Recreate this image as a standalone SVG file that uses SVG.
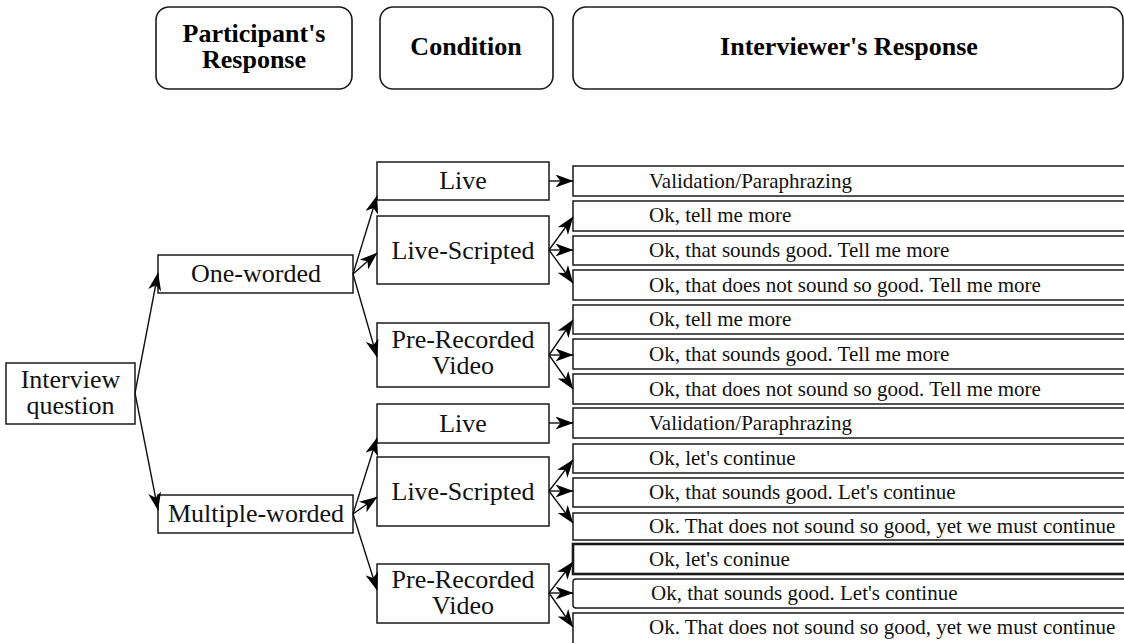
<svg xmlns="http://www.w3.org/2000/svg" width="1124" height="643" viewBox="0 0 1124 643">
<defs>
<style>
.ht{font-family:Liberation Serif,serif;font-weight:bold;font-size:26px;fill:#000;text-anchor:middle}
.nt{font-family:Liberation Serif,serif;font-size:26px;fill:#111;text-anchor:middle}
.rt{font-family:Liberation Serif,serif;font-size:21px;fill:#111}
.box{fill:#fff;stroke:#1a1a1a;stroke-width:1.5}
.hdr{fill:#fff;stroke:#1a1a1a;stroke-width:1.6}
.ln{fill:none;stroke:#111;stroke-width:1.4;marker-end:url(#ah)}
</style>
<marker id="ah" viewBox="0 0 18 13" refX="17.5" refY="6.5" markerWidth="18" markerHeight="13" markerUnits="userSpaceOnUse" orient="auto">
<path d="M0,0 L18,6.5 L0,13 L5,6.5 Z" fill="#000"/>
</marker>
</defs>

<g id="header-participant">
<rect class="hdr" x="156" y="7" width="196" height="82" rx="13"/>
<text class="ht" x="254" y="42">Participant's</text>
<text class="ht" x="254" y="68">Response</text>
</g>
<g id="header-condition">
<rect class="hdr" x="380" y="7" width="173" height="82" rx="13"/>
<text class="ht" x="466" y="55">Condition</text>
</g>
<g id="header-interviewer">
<rect class="hdr" x="573" y="7" width="550" height="82" rx="13"/>
<text class="ht" x="849" y="55">Interviewer's Response</text>
</g>

<g id="interview-question">
<rect class="box" x="6" y="363" width="129" height="61"/>
<text class="nt" x="70.5" y="388">Interview</text>
<text class="nt" x="70.5" y="414">question</text>
</g>
<g id="one-worded">
<rect class="box" x="158" y="255" width="195" height="38"/>
<text class="nt" x="256" y="282">One-worded</text>
</g>
<g id="multiple-worded">
<rect class="box" x="158" y="495" width="195" height="38"/>
<text class="nt" x="256" y="522">Multiple-worded</text>
</g>

<g id="c1-live">
<rect class="box" x="377" y="162" width="172" height="38"/>
<text class="nt" x="463" y="189">Live</text>
</g>
<g id="c1-live-scripted">
<rect class="box" x="377" y="216" width="172" height="68"/>
<text class="nt" x="463" y="259">Live-Scripted</text>
</g>
<g id="c1-prerecorded">
<rect class="box" x="377" y="323" width="172" height="64"/>
<text class="nt" x="463" y="348">Pre-Recorded</text>
<text class="nt" x="463" y="374">Video</text>
</g>
<g id="c2-live">
<rect class="box" x="377" y="404" width="172" height="39"/>
<text class="nt" x="463" y="432">Live</text>
</g>
<g id="c2-live-scripted">
<rect class="box" x="377" y="457" width="172" height="69"/>
<text class="nt" x="463" y="500">Live-Scripted</text>
</g>
<g id="c2-prerecorded">
<rect class="box" x="377" y="564" width="172" height="59"/>
<text class="nt" x="463" y="588">Pre-Recorded</text>
<text class="nt" x="463" y="614">Video</text>
</g>

<g id="r1">
<rect class="box" x="573" y="166" width="570" height="30"/>
<text class="rt" x="649" y="188">Validation/Paraphrazing</text>
</g>
<g id="r2">
<rect class="box" x="573" y="201" width="570" height="30"/>
<text class="rt" x="649" y="222">Ok, tell me more</text>
</g>
<g id="r3">
<rect class="box" x="573" y="236" width="570" height="29"/>
<text class="rt" x="649" y="257">Ok, that sounds good. Tell me more</text>
</g>
<g id="r4">
<rect class="box" x="573" y="270" width="570" height="30"/>
<text class="rt" x="649" y="292">Ok, that does not sound so good. Tell me more</text>
</g>
<g id="r5">
<rect class="box" x="573" y="305" width="570" height="29"/>
<text class="rt" x="649" y="326">Ok, tell me more</text>
</g>
<g id="r6">
<rect class="box" x="573" y="339" width="570" height="30"/>
<text class="rt" x="649" y="361">Ok, that sounds good. Tell me more</text>
</g>
<g id="r7">
<rect class="box" x="573" y="374" width="570" height="30"/>
<text class="rt" x="649" y="396">Ok, that does not sound so good. Tell me more</text>
</g>
<g id="r8">
<rect class="box" x="573" y="408" width="570" height="30"/>
<text class="rt" x="649" y="430">Validation/Paraphrazing</text>
</g>
<g id="r9">
<rect class="box" x="573" y="444" width="570" height="29"/>
<text class="rt" x="649" y="465">Ok, let's continue</text>
</g>
<g id="r10">
<rect class="box" x="573" y="478" width="570" height="29"/>
<text class="rt" x="649" y="499">Ok, that sounds good. Let's continue</text>
</g>
<g id="r11">
<rect class="box" x="573" y="513" width="570" height="27"/>
<text class="rt" x="649" y="533">Ok. That does not sound so good, yet we must continue</text>
</g>
<g id="r12">
<rect class="box" x="573" y="544" width="570" height="30" style="stroke-width:2.6"/>
<text class="rt" x="649" y="566">Ok, let's coninue</text>
</g>
<g id="r13">
<rect class="box" x="573" y="579" width="570" height="29" rx="3"/>
<text class="rt" x="651" y="600">Ok, that sounds good. Let's continue</text>
</g>
<g id="r14">
<rect class="box" x="573" y="613" width="570" height="40"/>
<text class="rt" x="649" y="634">Ok. That does not sound so good, yet we must continue</text>
</g>

<g id="connectors">
<line class="ln" x1="135" y1="393" x2="158" y2="273"/>
<line class="ln" x1="135" y1="393" x2="158" y2="510"/>
<line class="ln" x1="353" y1="274" x2="377" y2="196"/>
<line class="ln" x1="353" y1="274" x2="377" y2="253"/>
<line class="ln" x1="353" y1="274" x2="377" y2="357"/>
<line class="ln" x1="353" y1="514" x2="377" y2="438"/>
<line class="ln" x1="353" y1="514" x2="377" y2="497"/>
<line class="ln" x1="353" y1="514" x2="377" y2="590"/>
<line class="ln" x1="549" y1="181" x2="573" y2="181"/>
<line class="ln" x1="549" y1="250" x2="573" y2="217"/>
<line class="ln" x1="549" y1="250" x2="573" y2="250"/>
<line class="ln" x1="549" y1="250" x2="573" y2="283"/>
<line class="ln" x1="549" y1="355" x2="573" y2="320"/>
<line class="ln" x1="549" y1="355" x2="573" y2="355"/>
<line class="ln" x1="549" y1="355" x2="573" y2="389"/>
<line class="ln" x1="549" y1="423" x2="573" y2="423"/>
<line class="ln" x1="549" y1="491" x2="573" y2="460"/>
<line class="ln" x1="549" y1="491" x2="573" y2="491"/>
<line class="ln" x1="549" y1="491" x2="573" y2="523"/>
<line class="ln" x1="549" y1="593" x2="573" y2="562"/>
<line class="ln" x1="549" y1="593" x2="573" y2="593"/>
<line class="ln" x1="549" y1="593" x2="573" y2="627"/>
</g>
</svg>
